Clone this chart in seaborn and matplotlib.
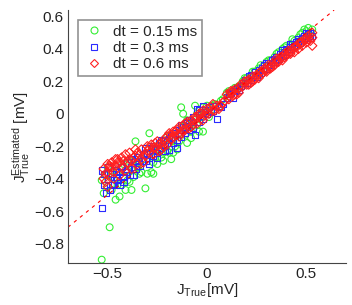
import matplotlib
matplotlib.use("Agg")
import matplotlib.pyplot as plt
from matplotlib.lines import Line2D
import seaborn as sns
import numpy as np

sns.set_style("white")
plt.rcParams['font.family'] = ['Liberation Sans', 'DejaVu Sans']
plt.rcParams['mathtext.fontset'] = 'custom'
plt.rcParams['mathtext.rm'] = 'Liberation Sans'
plt.rcParams['mathtext.it'] = 'Liberation Sans'

labels = ["dt = 0.15 ms", "dt = 0.3 ms", "dt = 0.6 ms"]
colors = ["#33ee33", "#2a2aff", "#ff2020"]
markers = ["o", "s", "D"]

green_x = [-0.53,-0.49,-0.53,-0.52,-0.51,-0.50,-0.48,-0.47,-0.46,-0.45,-0.44,-0.43,-0.42,-0.41,-0.40,-0.39,-0.38,-0.37,-0.36,-0.35,-0.34,-0.33,-0.31,-0.30,-0.29,-0.28,-0.27,-0.26,-0.25,-0.24,-0.23,-0.22,-0.21,-0.20,-0.19,-0.18,-0.17,-0.16,-0.15,-0.14,-0.13,-0.12,-0.11,-0.10,-0.09,-0.08,-0.07,-0.06,-0.05,-0.04,-0.03,-0.02,-0.01,0.00,0.02,0.04,0.06,0.08,0.10,0.12,0.14,0.16,0.18,0.20,0.22,0.24,0.26,0.28,0.30,0.32,0.34,0.36,0.38,0.40,0.42,0.44,0.46,0.48,0.50,0.51,0.52,
           -0.50,-0.48,-0.45,-0.42,-0.40,-0.37,-0.34,-0.32,-0.30,-0.27,-0.25,-0.22,-0.20,-0.17,-0.14,-0.12,-0.10,-0.08,-0.05,-0.02,0.01,0.03,0.07,0.11,0.15,0.19,0.23,0.27,0.31,0.35,0.39,0.43,0.47,0.49,0.53]
green_y = [-0.90,-0.70,-0.41,-0.49,-0.38,-0.45,-0.47,-0.40,-0.53,-0.36,-0.51,-0.44,-0.39,-0.47,-0.35,-0.42,-0.47,-0.39,-0.17,-0.33,-0.30,-0.36,-0.46,-0.37,-0.12,-0.36,-0.37,-0.27,-0.31,-0.22,-0.27,-0.24,-0.19,-0.23,-0.24,-0.28,-0.17,-0.20,-0.22,-0.12,0.04,0.00,-0.13,-0.18,-0.08,-0.11,-0.05,0.05,-0.07,-0.11,-0.02,-0.11,0.01,0.05,0.02,0.06,0.04,0.09,0.13,0.12,0.16,0.17,0.20,0.22,0.23,0.26,0.28,0.29,0.32,0.33,0.35,0.38,0.40,0.42,0.43,0.45,0.47,0.50,0.51,0.53,0.50,
           -0.33,-0.39,-0.44,-0.31,-0.41,-0.29,-0.37,-0.28,-0.25,-0.30,-0.20,-0.29,-0.14,-0.24,-0.17,-0.08,-0.04,-0.15,0.00,0.04,-0.02,0.05,0.08,0.14,0.15,0.22,0.26,0.30,0.33,0.37,0.41,0.46,0.49,0.52,0.52]

blue_x = [-0.53,-0.53,-0.52,-0.51,-0.50,-0.49,-0.48,-0.47,-0.46,-0.45,-0.44,-0.43,-0.42,-0.41,-0.40,-0.39,-0.38,-0.37,-0.36,-0.35,-0.34,-0.32,-0.31,-0.30,-0.29,-0.28,-0.27,-0.26,-0.25,-0.24,-0.23,-0.22,-0.21,-0.20,-0.19,-0.18,-0.17,-0.16,-0.15,-0.14,-0.13,-0.12,-0.11,-0.10,-0.09,-0.08,-0.07,-0.06,-0.05,-0.04,-0.03,-0.02,-0.01,0.00,0.01,0.03,0.05,0.06,0.08,0.10,0.12,0.13,0.14,0.15,0.17,0.19,0.20,0.21,0.22,0.23,0.24,0.25,0.26,0.27,0.28,0.29,0.30,0.31,0.32,0.33,0.34,0.35,0.36,0.37,0.38,0.39,0.40,0.41,0.42,0.43,0.44,0.45,0.46,0.47,0.48,0.49,0.50,0.51,0.52,0.53,
          -0.52,-0.50,-0.48,-0.46,-0.44,-0.42,-0.40,-0.38,-0.36,-0.33,-0.31,-0.29,-0.27,-0.25,-0.23,-0.21,-0.19,-0.17,-0.15,-0.13,-0.11,-0.09,-0.07,-0.04,-0.02,0.02,0.04,0.07,0.11,0.16,0.18,0.22,0.26,0.30,0.34,0.38,0.42,0.46,0.50,0.52]
blue_y = [-0.58,-0.35,-0.44,-0.49,-0.40,-0.47,-0.37,-0.43,-0.35,-0.41,-0.44,-0.33,-0.39,-0.36,-0.30,-0.38,-0.33,-0.38,-0.29,-0.27,-0.32,-0.25,-0.29,-0.24,-0.27,-0.21,-0.26,-0.22,-0.24,-0.18,-0.21,-0.17,-0.20,-0.16,-0.22,-0.14,-0.18,-0.12,-0.21,-0.10,-0.14,-0.08,-0.12,-0.06,-0.10,-0.05,-0.09,-0.13,0.03,-0.05,0.01,-0.03,0.02,0.00,0.04,0.02,-0.03,0.05,0.06,0.10,0.13,0.10,0.14,0.16,0.17,0.21,0.19,0.23,0.21,0.24,0.26,0.23,0.27,0.25,0.28,0.30,0.28,0.31,0.30,0.33,0.32,0.35,0.34,0.37,0.36,0.38,0.40,0.38,0.41,0.43,0.42,0.44,0.46,0.44,0.47,0.48,0.47,0.49,0.50,0.48,
          -0.37,-0.33,-0.44,-0.39,-0.36,-0.42,-0.34,-0.28,-0.34,-0.29,-0.21,-0.31,-0.20,-0.27,-0.16,-0.23,-0.15,-0.12,-0.16,-0.07,-0.09,-0.04,-0.02,0.02,0.05,0.01,0.05,0.04,0.12,0.15,0.19,0.24,0.25,0.31,0.34,0.39,0.43,0.45,0.50,0.47]

red_x = [-0.52,-0.51,-0.50,-0.50,-0.49,-0.48,-0.47,-0.46,-0.45,-0.44,-0.43,-0.42,-0.41,-0.40,-0.39,-0.38,-0.37,-0.36,-0.35,-0.34,-0.33,-0.31,-0.30,-0.29,-0.28,-0.27,-0.26,-0.25,-0.24,-0.23,-0.22,-0.21,-0.20,-0.19,-0.18,-0.17,-0.16,-0.15,-0.14,-0.13,-0.12,-0.11,-0.10,-0.09,-0.08,-0.07,-0.06,-0.05,-0.04,-0.03,-0.02,-0.01,0.00,0.01,0.02,0.03,0.05,0.06,0.08,0.10,0.11,0.12,0.13,0.14,0.15,0.16,0.18,0.19,0.20,0.21,0.22,0.23,0.24,0.25,0.26,0.27,0.28,0.29,0.30,0.31,0.32,0.33,0.34,0.35,0.36,0.37,0.38,0.39,0.40,0.41,0.42,0.43,0.44,0.45,0.46,0.47,0.48,0.49,0.50,0.51,0.52,0.53,
         -0.51,-0.49,-0.47,-0.45,-0.42,-0.39,-0.36,-0.33,-0.30,-0.27,-0.24,-0.21,-0.18,-0.15,-0.12,-0.09,-0.06,-0.03,0.00,0.04,0.09,0.12,0.14,0.17,0.21,0.24,0.27,0.30,0.33,0.36,0.39,0.42,0.45,0.48,0.51,0.53,
         -0.52,-0.50,-0.48,-0.46,-0.44,-0.41,-0.38,-0.35,-0.32,-0.29,-0.26,-0.23,-0.20,-0.17,-0.14,-0.11,-0.08,-0.05,-0.02,0.03,0.07,0.11,0.13,0.16,0.20,0.23,0.26,0.29,0.32,0.35,0.38,0.41,0.44,0.47,0.50,0.53]
red_y = [-0.34,-0.42,-0.31,-0.45,-0.33,-0.30,-0.36,-0.32,-0.28,-0.38,-0.27,-0.33,-0.25,-0.30,-0.24,-0.34,-0.27,-0.26,-0.31,-0.25,-0.22,-0.26,-0.20,-0.24,-0.19,-0.25,-0.21,-0.17,-0.23,-0.18,-0.20,-0.15,-0.19,-0.12,-0.16,-0.14,-0.11,-0.13,-0.08,-0.12,-0.07,-0.10,-0.05,-0.09,-0.04,-0.07,-0.02,-0.06,0.00,-0.03,0.02,-0.01,0.03,0.00,0.04,0.02,0.05,0.03,0.07,0.12,0.09,0.14,0.11,0.15,0.12,0.16,0.17,0.20,0.18,0.21,0.19,0.23,0.21,0.24,0.22,0.26,0.25,0.28,0.26,0.30,0.29,0.31,0.30,0.34,0.33,0.35,0.33,0.37,0.36,0.39,0.37,0.40,0.38,0.42,0.40,0.44,0.42,0.46,0.44,0.48,0.45,0.47,
         -0.37,-0.32,-0.40,-0.30,-0.29,-0.28,-0.22,-0.28,-0.23,-0.21,-0.19,-0.17,-0.13,-0.10,-0.10,-0.06,-0.04,0.00,0.01,0.02,0.08,0.13,0.12,0.18,0.18,0.22,0.24,0.27,0.29,0.32,0.35,0.38,0.41,0.44,0.46,0.42,
         -0.40,-0.36,-0.33,-0.28,-0.30,-0.35,-0.29,-0.24,-0.30,-0.21,-0.18,-0.22,-0.14,-0.11,-0.14,-0.06,-0.08,-0.02,-0.04,0.06,0.05,0.11,0.14,0.13,0.20,0.20,0.25,0.27,0.28,0.32,0.35,0.37,0.41,0.43,0.46,0.50]

line_x = [-0.70, 0.64]
line_y = [-0.70, 0.64]

fig = plt.figure(figsize=(3.52, 3.05), dpi=100)
ax = fig.add_axes([0.193, 0.138, 0.790, 0.829])

sns.lineplot(x=line_x, y=line_y, ax=ax, color="#ff0000", linestyle=(0, (3, 4)), linewidth=0.8, legend=False)

series = [(green_x, green_y), (blue_x, blue_y), (red_x, red_y)]
sizes = [24, 20, 22]
for (xs, ys), col, mk, sz in zip(series, colors, markers, sizes):
    sns.scatterplot(x=xs, y=ys, ax=ax, marker=mk, s=sz, facecolor="none",
                    edgecolor=col, linewidth=0.8, legend=False)

ax.set_xlim(-0.7, 0.7)
ax.set_ylim(-0.92, 0.64)
ax.set_xticks([-0.5, 0, 0.5])
ax.set_xticklabels(["\u22120.5", "0", "0.5"])
ax.set_yticks([-0.8, -0.6, -0.4, -0.2, 0, 0.2, 0.4, 0.6])
ax.set_yticklabels(["\u22120.8", "\u22120.6", "\u22120.4", "\u22120.2", "0", "0.2", "0.4", "0.6"])
ax.tick_params(direction="in", length=3, width=0.6, labelsize=11, colors="#222222", pad=3)
for s in ["top", "right"]:
    ax.spines[s].set_visible(False)
for s in ["left", "bottom"]:
    ax.spines[s].set_color("#444444")
    ax.spines[s].set_linewidth(0.8)

ax.set_xlabel(r"$\mathregular{J_{True}}$[mV]", fontsize=11, labelpad=0)
ax.set_ylabel(r"$\mathregular{J_{True}^{Estimated}}$ [mV]", fontsize=11, labelpad=1)

handles = [Line2D([], [], linestyle="none", marker=mk, markersize=ms, markerfacecolor="none",
                  markeredgecolor=col, markeredgewidth=0.8)
           for mk, col, ms in zip(markers, colors, [5, 4.5, 4.5])]
leg = ax.legend(handles, labels, loc="upper left", fontsize=11, frameon=True, fancybox=False,
                handletextpad=0.6, borderpad=0.3, labelspacing=0.15,
                handlelength=1.4, bbox_to_anchor=(0.01, 0.99))
leg.get_frame().set_edgecolor("#777777")
leg.get_frame().set_linewidth(1.2)

fig.savefig("out.png", dpi=100)
